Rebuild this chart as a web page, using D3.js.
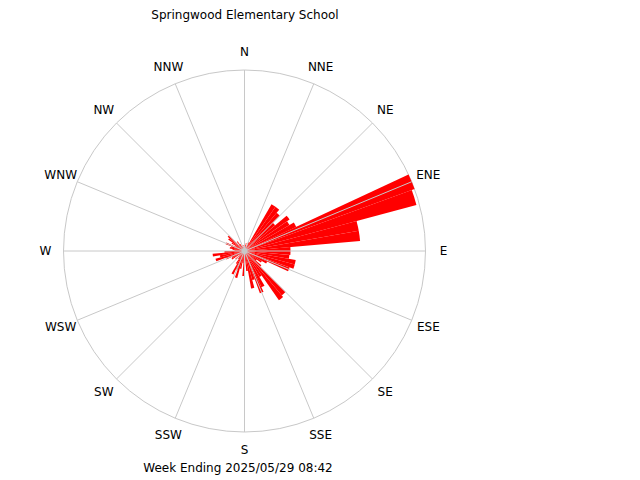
<!DOCTYPE html>
<html><head><meta charset="utf-8">
<script src="https://cdn.jsdelivr.net/npm/d3@7"></script>
<style>body{margin:0;background:#fff}text{font-family:"DejaVu Sans",sans-serif;font-size:12px;fill:#000}</style>
</head><body>
<svg id="c" width="640" height="480"></svg>
<script>
// 5-degree bins, starting at N going clockwise
var binStarts = d3.range(0, 360, 5);
var binValues = [4,6,8,3,5,10,54,54,50,40,55,52,57,181,178,116,116,46,
  46,45,52,52,48,25,20,15,22,58,60,30,40,45,30,38,20,8,
  25,12,18,28,20,26,15,10,8,12,6,15,14,20,30,25,32,20,
  10,12,15,14,20,10,15,20,22,8,12,8,5,6,4,3,6,3];
var compassLabels = ['N','NNE','NE','ENE','E','ESE','SE','SSE','S','SSW','SW','WSW','W','WNW','NW','NNW'];
var title = 'Springwood Elementary School', footer = 'Week Ending 2025/05/29 08:42';

var cx = 244.5, cy = 251, R = 181;
var svg = d3.select('#c');
var r = d3.scaleLinear().domain([0, 181]).range([0, R]);
var rad = function (deg) { return deg * Math.PI / 180; };

var g = svg.append('g').attr('transform', 'translate(' + cx + ',' + cy + ')');

g.append('circle').attr('r', R).attr('fill', 'none').attr('stroke', '#c8c8c8');

var arc = d3.arc().innerRadius(0);
g.selectAll('path.bin').data(binStarts).enter().append('path')
  .attr('class', 'bin')
  .attr('d', function (d, i) {
    return arc({ outerRadius: r(binValues[i]), startAngle: rad(d), endAngle: rad(d + 5) });
  })
  .attr('fill', '#ff0000');

// spokes drawn over the wedges
g.selectAll('line.spoke').data(compassLabels).enter().append('line')
  .attr('x1', 0).attr('y1', 0)
  .attr('x2', function (d, i) { return R * Math.sin(rad(i * 22.5)); })
  .attr('y2', function (d, i) { return -R * Math.cos(rad(i * 22.5)); })
  .attr('stroke', '#c8c8c8');

g.append('circle').attr('r', 3).attr('fill', '#c8c8c8');

g.selectAll('text.lab').data(compassLabels).enter().append('text')
  .attr('x', function (d, i) { return 199 * Math.sin(rad(i * 22.5)); })
  .attr('y', function (d, i) { return -199 * Math.cos(rad(i * 22.5)); })
  .attr('text-anchor', 'middle').attr('dominant-baseline', 'central')
  .text(function (d) { return d; });

svg.append('text').attr('x', 245).attr('y', 19).attr('text-anchor', 'middle').text(title);
svg.append('text').attr('x', 238).attr('y', 472).attr('text-anchor', 'middle').text(footer);
</script>
</body></html>
